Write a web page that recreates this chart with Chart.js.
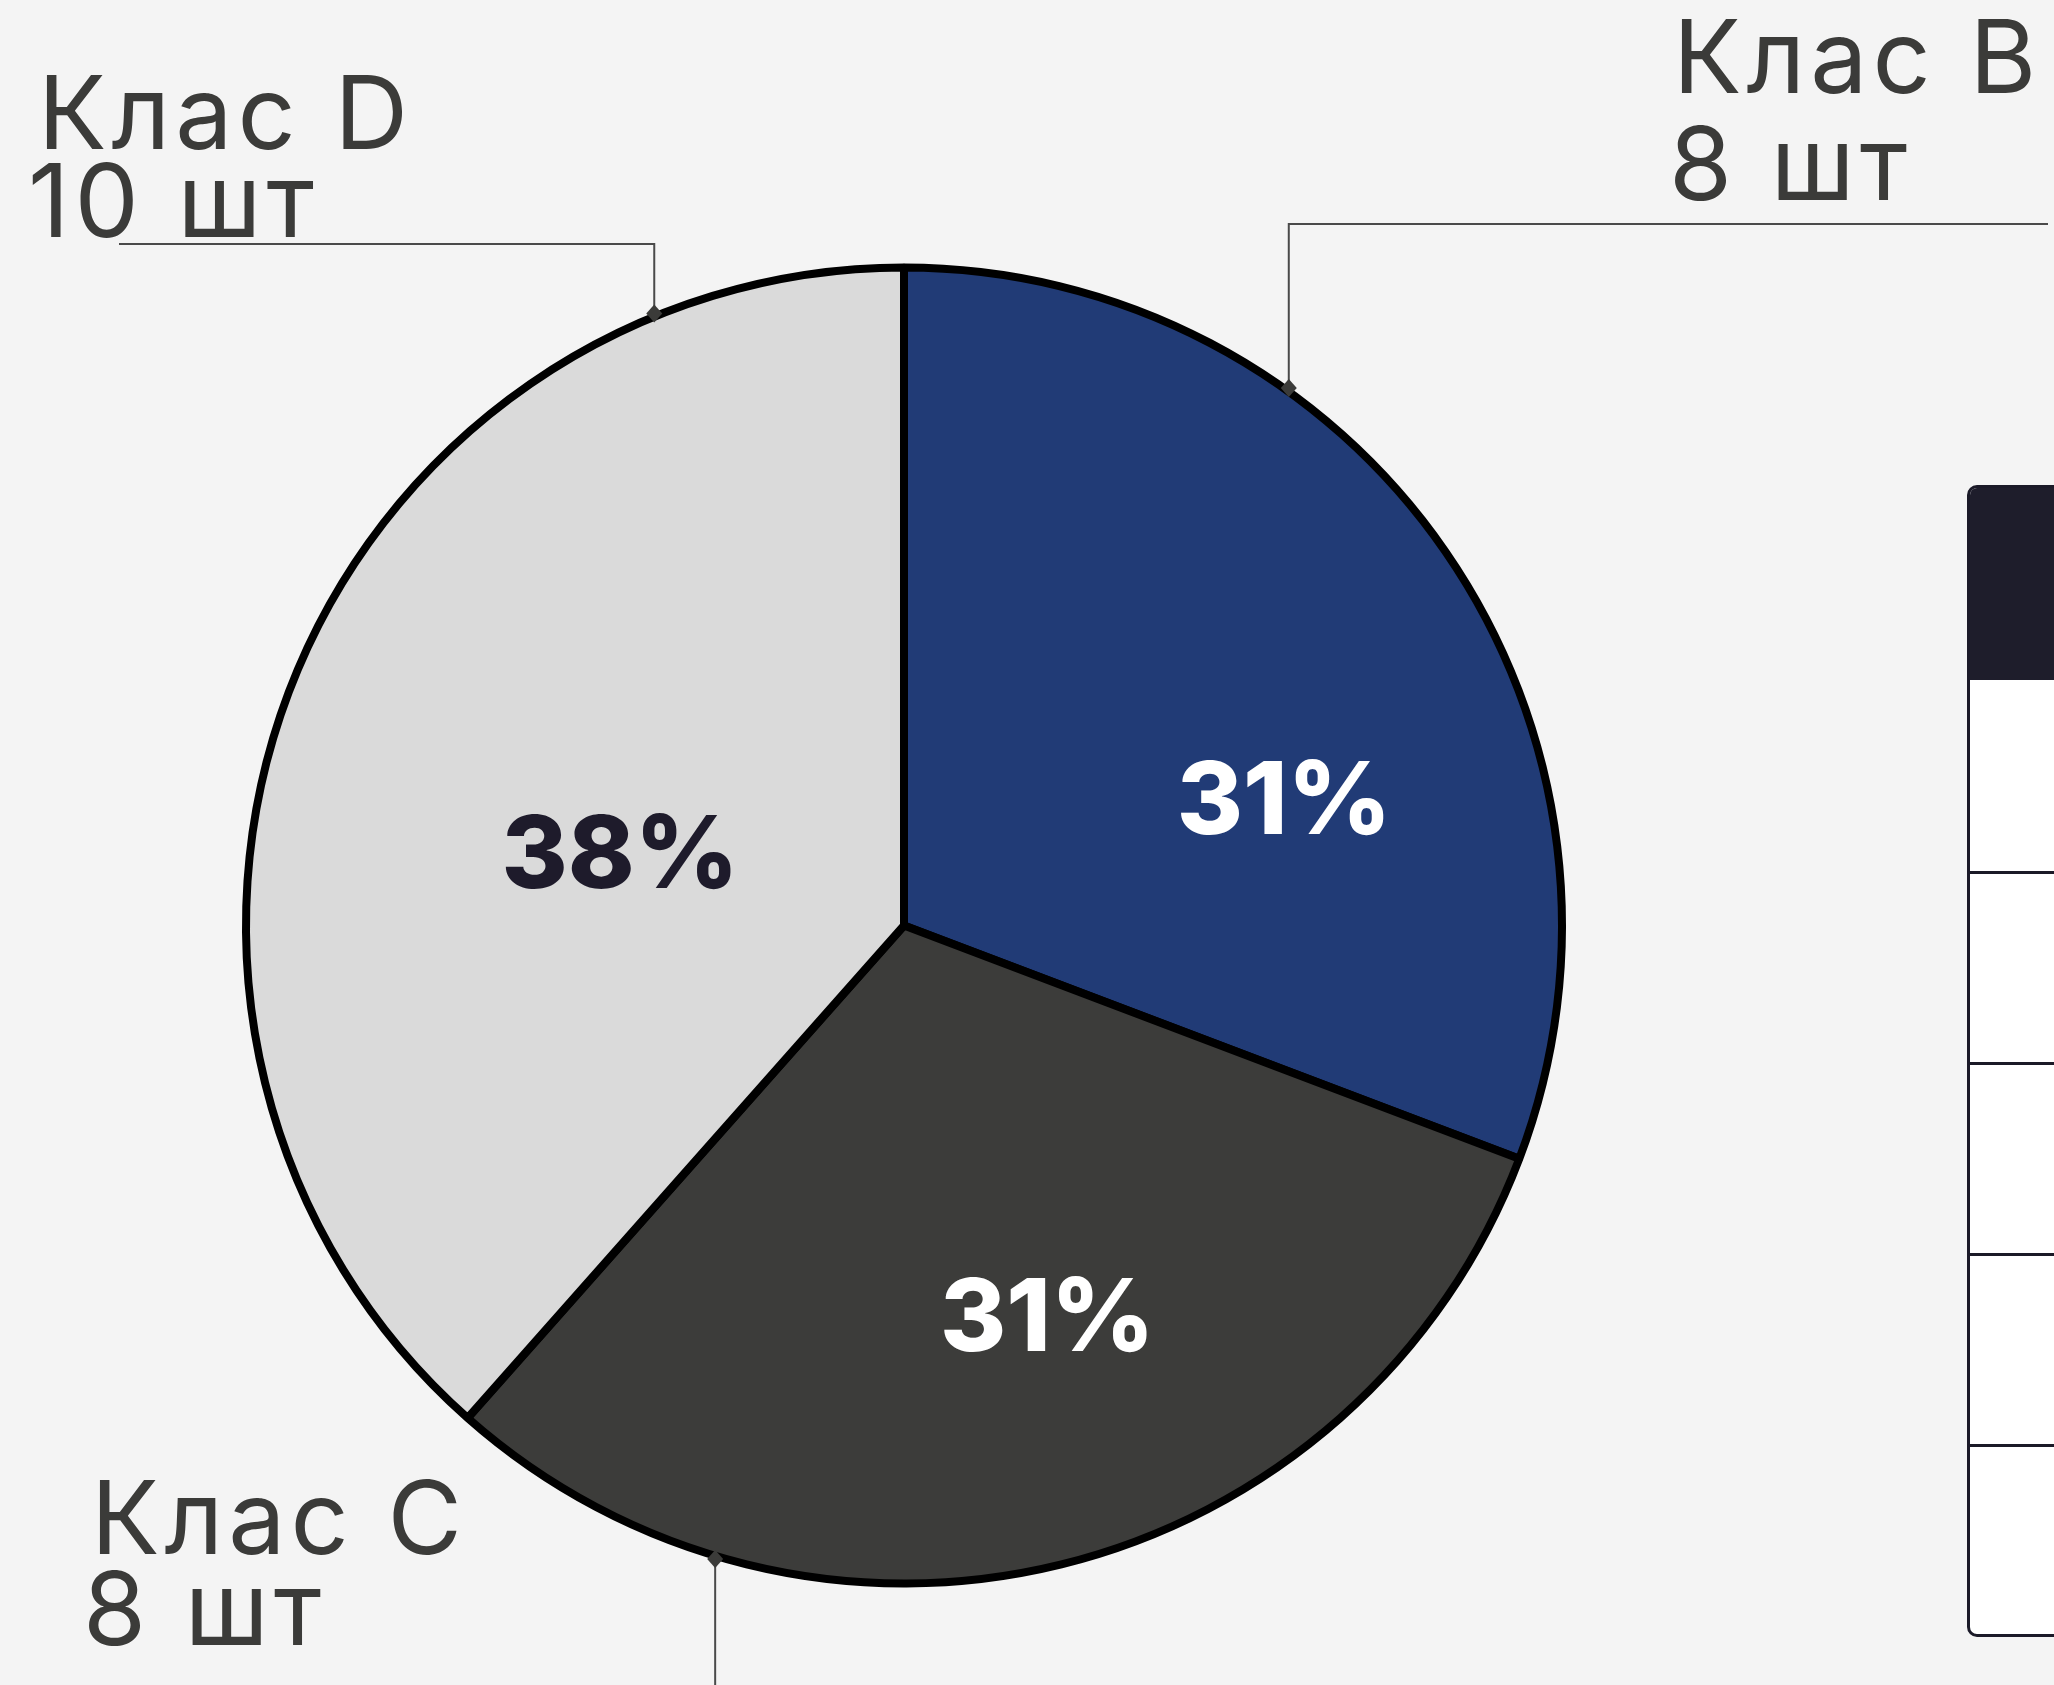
<!DOCTYPE html>
<html>
<head>
<meta charset="utf-8">
<script src="https://cdn.jsdelivr.net/npm/chart.js@4.4.1/dist/chart.umd.min.js"></script>
<style>
  html, body { margin: 0; padding: 0; background: #f4f4f4; overflow: hidden; }
  #wrap { position: relative; width: 2054px; height: 1685px; }
  #pie { position: absolute; left: 0; top: 0; }
  /* table on the right, cut off by the page edge */
  .side-table {
    position: absolute; left: 1967px; top: 485px; width: 400px; height: 1152px;
    border: 3px solid #1b1a28; border-radius: 10px; background: #fff; overflow: hidden;
    box-sizing: border-box;
  }
  .side-table .head { height: 192px; background: #1e1d2b; }
  .side-table .row { height: 191px; border-top: 3px solid #1b1a28; box-sizing: border-box; }
  .side-table .head + .row { border-top: none; }
</style>
</head>
<body>
<div id="wrap">
  <canvas id="pie" width="2054" height="1685"></canvas>
  <div class="side-table">
    <div class="head"></div>
    <div class="row"></div>
    <div class="row"></div>
    <div class="row"></div>
    <div class="row"></div>
    <div class="row"></div>
  </div>
</div>
<script>
const classes = ['Клас B', 'Клас C', 'Клас D'];
const counts = [8, 8, 10];
const unit = 'шт';
const sliceColors = ['#213b76', '#3c3c3a', '#dadada'];
const pctColors = ['#ffffff', '#ffffff', '#1e1b2b'];

// where each label / callout sits (angle in degrees clockwise from top)
const pctPlace = [
  { angle: 71.2, r: 0.607 },
  { angle: 160.0, r: 0.628 },
  { angle: 284.6, r: 0.449 },
];
const callouts = [
  // anchor angle, elbow y, end x, text lines (left, baseline)
  { angle: 35.6, elbowY: 224, endX: 2048, lines: [[1673, 93], [1669, 200]] },
  { angle: 196.6, elbowY: 1700, endX: null, lines: [[91, 1554], [83, 1645]] },
  { angle: 337.8, elbowY: 244, endX: 119, lines: [[38, 149], [28, 237]] },
];

const total = counts.reduce((a, b) => a + b, 0);

const labelPlugin = {
  id: 'pieLabels',
  afterDatasetsDraw(chart) {
    const ctx = chart.ctx;
    const meta = chart.getDatasetMeta(0);
    meta.data.forEach((arc, i) => {
      const cx = arc.x, cy = arc.y, R = arc.outerRadius;

      // percentage inside the slice (cap centred on the spot)
      const p = pctPlace[i];
      const a = p.angle * Math.PI / 180;
      ctx.save();
      ctx.font = '800 101px Inter, "DejaVu Sans", sans-serif';
      ctx.fillStyle = pctColors[i];
      ctx.textAlign = 'center';
      ctx.textBaseline = 'alphabetic';
      ctx.fillText(Math.round(counts[i] / total * 100) + '%',
        cx + Math.sin(a) * R * p.r + 2, cy - Math.cos(a) * R * p.r + 37);
      ctx.restore();

      // callout line with a small diamond on the edge
      const c = callouts[i];
      const b = c.angle * Math.PI / 180;
      const ax = cx + Math.sin(b) * (R + 3);
      const ay = cy - Math.cos(b) * (R + 3);
      ctx.save();
      ctx.strokeStyle = '#4a4a4a';
      ctx.lineWidth = 2;
      ctx.beginPath();
      ctx.moveTo(ax, ay);
      ctx.lineTo(ax, c.elbowY);
      if (c.endX !== null) ctx.lineTo(c.endX, c.elbowY);
      ctx.stroke();
      ctx.fillStyle = '#3b3b39';
      ctx.beginPath();
      ctx.moveTo(ax, ay - 9);
      ctx.lineTo(ax + 8, ay);
      ctx.lineTo(ax, ay + 9);
      ctx.lineTo(ax - 8, ay);
      ctx.closePath();
      ctx.fill();

      // class name and count
      ctx.font = '400 102px Inter, "DejaVu Sans", sans-serif';
      ctx.letterSpacing = '5px';
      ctx.fillStyle = '#3b3b39';
      ctx.textAlign = 'left';
      ctx.textBaseline = 'alphabetic';
      ctx.fillText(classes[i], c.lines[0][0], c.lines[0][1]);
      ctx.fillText(counts[i] + ' ' + unit, c.lines[1][0], c.lines[1][1]);
      ctx.restore();
    });
  }
};

new Chart(document.getElementById('pie'), {
  type: 'pie',
  data: {
    labels: classes,
    datasets: [{
      data: counts,
      backgroundColor: sliceColors,
      borderColor: '#000000',
      borderWidth: 8,
      hoverOffset: 0,
    }]
  },
  options: {
    responsive: false,
    animation: false,
    radius: 658,
    layout: { padding: { left: 0, right: 246, top: 166, bottom: 0 } },
    plugins: {
      legend: { display: false },
      tooltip: { enabled: false },
    },
    events: [],
  },
  plugins: [labelPlugin],
});
</script>
</body>
</html>
